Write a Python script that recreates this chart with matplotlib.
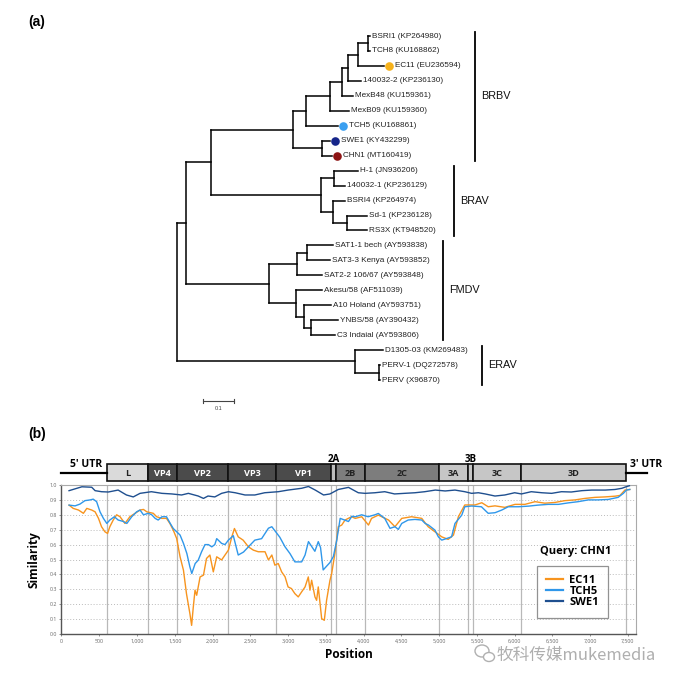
import numpy as np
import matplotlib
matplotlib.use("Agg")
import matplotlib.pyplot as plt
from matplotlib.patches import Rectangle, Ellipse
from matplotlib.ticker import FuncFormatter, MultipleLocator
from matplotlib.lines import Line2D

plt.rcParams['font.family'] = ['Liberation Sans', 'DejaVu Sans']

##================================ data ===========================
# tree: (branch length, name) for tips, (branch length, [children]) for nodes
BRBV = (0.266, [
    (0.041, [
        (0.080, [
            (0.039, [
                (0.018, [
                    (0.033, [
                        (0.033, [(0.006, "BSRI1 (KP264980)"), (0.006, "TCH8 (KU168862)")]),
                        (0.084, "EC11 (EU236594)"),
                    ]),
                    (0.044, "140032-2 (KP236130)"),
                ]),
                (0.034, "MexB48 (KU159361)"),
            ]),
            (0.060, "MexB09 (KU159360)"),
        ]),
        (0.104, "TCH5 (KU168861)"),
    ]),
    (0.094, [(0.025, "SWE1 (KY432299)"), (0.034, "CHN1 (MT160419)")]),
])
BRAV = (0.357, [
    (0.042, [(0.079, "H-1 (JN936206)"), (0.036, "140032-1 (KP236129)")]),
    (0.040, [(0.038, "BSRI4 (KP264974)"),
             (0.046, [(0.065, "Sd-1 (KP236128)"), (0.063, "RS3X (KT948520)")])]),
])
FMDV = (0.270, [
    (0.093, [(0.033, [(0.083, "SAT1-1 bech (AY593838)"), (0.073, "SAT3-3 Kenya (AY593852)")]),
             (0.081, "SAT2-2 106/67 (AY593848)")]),
    (0.088, [(0.085, "Akesu/58 (AF511039)"),
             (0.026, [(0.089, "A10 Holand (AY593751)"),
                      (0.025, [(0.087, "YNBS/58 (AY390432)"), (0.076, "C3 Indaial (AY593806)")])])]),
])
ERAV = (0.579, [(0.090, "D1305-03 (KM269483)"),
                (0.079, [(0.002, "PERV-1 (DQ272578)"), (0.002, "PERV (X96870)")])])
TREE = (0.0, [(0.028, [(0.083, [BRBV, BRAV]), FMDV]), ERAV])

DOTS = {"EC11 (EU236594)": "#f6b21c", "TCH5 (KU168861)": "#3a9ff0",
        "SWE1 (KY432299)": "#16268a", "CHN1 (MT160419)": "#8e1515"}

CLADES = ["BRBV", "BRAV", "FMDV", "ERAV"]
CLADE_LEAVES = [(0, 8), (9, 13), (14, 20), (21, 23)]

# genome map
GENES = ["L", "VP4", "VP2", "VP3", "VP1", "2A", "2B", "2C", "3A", "3B", "3C", "3D"]
GENE_START = [600, 1145, 1525, 2210, 2845, 3575, 3635, 4025, 5000, 5385, 5455, 6080]
GENE_END = 7475

# similarity plot (query CHN1)
swe1_x = [100, 270, 400, 445, 530, 620, 750, 860, 950, 1040, 1190, 1330, 1460, 1590, 1680,
          1810, 1880, 1940, 2030, 2120, 2210, 2300, 2430, 2560, 2690, 2870, 3000, 3180,
          3270, 3360, 3470, 3555, 3665, 3800, 3930, 4020, 4150, 4280, 4410, 4540, 4680,
          4810, 4950, 5080, 5210, 5340, 5430, 5520, 5610, 5740, 5870, 6000, 6090, 6220,
          6360, 6490, 6620, 6750, 6890, 7020, 7200, 7330, 7420, 7480, 7520]
swe1_y = [0.962, 0.988, 0.985, 0.962, 0.955, 0.953, 0.966, 0.933, 0.92, 0.944, 0.955, 0.944,
          0.94, 0.933, 0.944, 0.926, 0.91, 0.926, 0.92, 0.944, 0.955, 0.948, 0.933, 0.933,
          0.948, 0.955, 0.966, 0.978, 0.99, 0.966, 0.933, 0.94, 0.97, 0.984, 0.948, 0.944,
          0.948, 0.955, 0.94, 0.944, 0.948, 0.955, 0.966, 0.96, 0.966, 0.955, 0.944, 0.948,
          0.94, 0.926, 0.933, 0.948, 0.94, 0.955, 0.948, 0.944, 0.955, 0.953, 0.962, 0.966,
          0.966, 0.97, 0.978, 0.989, 0.995]

tch5_x = [100, 180, 245, 310, 380, 420, 465, 510, 555, 600, 640, 700, 750, 820, 865, 930,
          995, 1040, 1085, 1150, 1195, 1240, 1280, 1330, 1390, 1440, 1480, 1525, 1570, 1615,
          1660, 1700, 1725, 1770, 1810, 1855, 1900, 1945, 1990, 2030, 2055, 2120, 2165,
          2210, 2275, 2340, 2410, 2475, 2560, 2650, 2740, 2785, 2890, 2960, 3025, 3090,
          3180, 3225, 3270, 3355, 3400, 3430, 3465, 3555, 3600, 3645, 3690, 3800, 3845,
          3890, 3975, 4060, 4150, 4195, 4280, 4350, 4415, 4460, 4505, 4590, 4680, 4770,
          4815, 4860, 4945, 4990, 5035, 5100, 5165, 5210, 5300, 5340, 5430, 5560, 5650,
          5740, 5830, 5915, 6050, 6180, 6310, 6445, 6580, 6710, 6840, 6975, 7105, 7240,
          7370, 7440, 7480, 7525]
tch5_y = [0.865, 0.86, 0.872, 0.895, 0.9, 0.905, 0.888, 0.82, 0.776, 0.742, 0.765, 0.787,
          0.765, 0.755, 0.742, 0.787, 0.82, 0.832, 0.8, 0.81, 0.8, 0.776, 0.765, 0.787,
          0.787, 0.742, 0.708, 0.686, 0.664, 0.608, 0.54, 0.45, 0.406, 0.473, 0.495, 0.552,
          0.6, 0.6, 0.585, 0.6, 0.64, 0.608, 0.6, 0.63, 0.66, 0.53, 0.55, 0.585, 0.63, 0.64,
          0.71, 0.72, 0.65, 0.585, 0.54, 0.484, 0.484, 0.53, 0.62, 0.555, 0.62, 0.58, 0.43,
          0.48, 0.52, 0.63, 0.776, 0.755, 0.79, 0.787, 0.8, 0.787, 0.8, 0.809, 0.776, 0.709,
          0.72, 0.702, 0.742, 0.765, 0.769, 0.765, 0.742, 0.731, 0.697, 0.652, 0.63, 0.641,
          0.652, 0.742, 0.798, 0.854, 0.859, 0.854, 0.81, 0.814, 0.832, 0.854, 0.854, 0.858,
          0.865, 0.87, 0.87, 0.88, 0.888, 0.9, 0.9, 0.903, 0.917, 0.944, 0.966, 0.97]

ec11_x = [100, 155, 225, 290, 335, 400, 445, 490, 530, 575, 610, 640, 685, 730, 775, 840,
          905, 975, 1040, 1085, 1130, 1170, 1215, 1260, 1325, 1390, 1435, 1480, 1525, 1570,
          1615, 1655, 1700, 1723, 1745, 1768, 1790, 1835, 1880, 1920, 1965, 2010, 2055,
          2120, 2210, 2255, 2290, 2340, 2405, 2475, 2540, 2605, 2695, 2740, 2785, 2825,
          2870, 2915, 2960, 3000, 3045, 3090, 3135, 3180, 3225, 3268, 3290, 3312, 3356,
          3378, 3400, 3445, 3480, 3510, 3555, 3577, 3620, 3665, 3710, 3755, 3840, 3890,
          3975, 4065, 4105, 4195, 4330, 4415, 4505, 4635, 4770, 4855, 4945, 5035, 5120,
          5190, 5255, 5340, 5475, 5565, 5650, 5740, 5870, 6005, 6135, 6270, 6400, 6535,
          6665, 6800, 6930, 7065, 7195, 7330, 7395, 7460, 7525]
ec11_y = [0.865, 0.843, 0.832, 0.81, 0.843, 0.832, 0.82, 0.776, 0.72, 0.686, 0.675, 0.72,
          0.765, 0.8, 0.787, 0.742, 0.787, 0.81, 0.832, 0.836, 0.82, 0.815, 0.81, 0.787,
          0.776, 0.776, 0.742, 0.697, 0.641, 0.518, 0.428, 0.27, 0.137, 0.058, 0.18, 0.294,
          0.26, 0.383, 0.395, 0.507, 0.53, 0.417, 0.518, 0.497, 0.563, 0.652, 0.708, 0.652,
          0.63, 0.585, 0.563, 0.552, 0.552, 0.497, 0.53, 0.462, 0.473, 0.417, 0.384, 0.316,
          0.305, 0.271, 0.249, 0.283, 0.316, 0.383, 0.294, 0.361, 0.249, 0.226, 0.316, 0.103,
          0.092, 0.226, 0.361, 0.405, 0.54, 0.72, 0.731, 0.765, 0.787, 0.776, 0.787, 0.731,
          0.776, 0.798, 0.765, 0.72, 0.776, 0.787, 0.776, 0.72, 0.686, 0.652, 0.635, 0.664,
          0.787, 0.866, 0.866, 0.881, 0.854, 0.86, 0.85, 0.87, 0.87, 0.888, 0.878, 0.883,
          0.895, 0.9, 0.91, 0.917, 0.92, 0.925, 0.93, 0.966, 0.97]

##================================ figure ===========================
W, H = 691, 685
fig = plt.figure(figsize=(W / 100, H / 100), dpi=100)

## (a) tree -- axes over the whole figure, 0.1 substitutions = 30.7 px
PX, X0 = 307.0, 177.3
Y0, DY = 36.0, 14.96
ax = fig.add_axes([0, 0, 1, 1])
ax.set_axis_off()
ax.set_xlim(-X0 / PX, (W - X0) / PX)
ax.set_ylim((H - Y0) / DY, -Y0 / DY)

leaves = []
def draw(node, x0):
    bl, kids = node
    x = x0 + bl
    if isinstance(kids, str):
        y = len(leaves)
        leaves.append((kids, x, y))
    else:
        ys = [draw(k, x) for k in kids]
        y = (ys[0] + ys[-1]) / 2
        ax.plot([x, x], [ys[0], ys[-1]], color='k', lw=1.1, solid_capstyle='projecting')
    if bl > 0:
        ax.plot([x0, x], [y, y], color='k', lw=1.1, solid_capstyle='projecting')
    return y

draw(TREE, 0.0)

for name, x, y in leaves:
    if name in DOTS:
        ax.plot(x + 5 / PX, y, 'o', ms=6.2, color=DOTS[name], mec='none')
        ax.text(x + 11 / PX, y, name, fontsize=5.9, va='center', ha='left', color='#222')
    else:
        ax.text(x + 2 / PX, y, name, fontsize=5.9, va='center', ha='left', color='#222')

bar_x = [0.970, 0.901, 0.866, 0.991]
for lab, (i0, i1), bx in zip(CLADES, CLADE_LEAVES, bar_x):
    ax.plot([bx, bx], [i0 - 0.3, i1 + 0.35], color='k', lw=1.3)
    ax.text(bx + 0.021, (i0 + i1) / 2, lab, fontsize=7.8, va='center', ha='left', color='#111')

# scale bar
sb_x, sb_y = 0.085, 24.4
ax.plot([sb_x, sb_x + 0.1], [sb_y, sb_y], color='#444', lw=0.8)
ax.plot([sb_x, sb_x], [sb_y - 0.12, sb_y + 0.12], color='#444', lw=0.8)
ax.plot([sb_x + 0.1, sb_x + 0.1], [sb_y - 0.12, sb_y + 0.12], color='#444', lw=0.8)
ax.text(sb_x + 0.05, sb_y + 0.3, "0.1", fontsize=4, ha='center', va='top', color='#444')

fig.text(28 / W, 1 - 22 / H, "(a)", fontsize=10, fontweight='bold', va='center', ha='left')
fig.text(28 / W, 1 - 434 / H, "(b)", fontsize=10, fontweight='bold', va='center', ha='left')

## (b) genome map
XMAX = 7607
sans = ['Open Sans', 'DejaVu Sans']
axm = fig.add_axes([61.5 / W, 1 - 485 / H, 574.5 / W, 40 / H])
axm.set_axis_off()
axm.set_xlim(0, XMAX)
axm.set_ylim(0, 40)

fills = {"L": "#dadada", "VP4": "#4b4b4b", "VP2": "#4b4b4b", "VP3": "#4b4b4b", "VP1": "#4b4b4b",
         "2A": "#bdbdbd", "2B": "#7d7d7d", "2C": "#7d7d7d", "3A": "#c6c6c6", "3B": "#c6c6c6",
         "3C": "#c6c6c6", "3D": "#c6c6c6"}
ends = GENE_START[1:] + [GENE_END]
axm.plot([0, GENE_START[0]], [12.3, 12.3], color='k', lw=1.6, clip_on=False)
axm.plot([GENE_END, XMAX + 150], [12.3, 12.3], color='k', lw=1.6, clip_on=False)
for g, s, e in zip(GENES, GENE_START, ends):
    axm.add_patch(Rectangle((s, 4), e - s, 16.7, facecolor=fills[g], edgecolor='#111',
                            lw=1.2, clip_on=False))
    if g in ("2A", "3B"):
        axm.text((s + e) / 2, 26, g, fontsize=7, fontweight='bold', ha='center', va='center',
                 family=sans)
    else:
        tc = 'white' if fills[g] == "#4b4b4b" else '#222'
        axm.text((s + e) / 2, 11.8, g, fontsize=6.6, fontweight='bold', ha='center',
                 va='center', color=tc, family=sans)
axm.text(325, 20.5, "5' UTR", fontsize=7.5, fontweight='bold', ha='center', va='center',
         family=sans)
axm.text(7740, 20.5, "3' UTR", fontsize=7.5, fontweight='bold', ha='center', va='center',
         family=sans, clip_on=False)

## similarity plot
axs = fig.add_axes([61.5 / W, 1 - 634 / H, 574.5 / W, 149 / H])
axs.set_xlim(0, XMAX)
axs.set_ylim(0, 1)
for b in GENE_START + [GENE_END]:
    axs.axvline(b, color='#b8b8b8', lw=0.9, zorder=1)
axs.yaxis.grid(True, ls=(0, (1, 2)), color='#bbbbbb', lw=0.7)
axs.set_axisbelow(True)

l1, = axs.plot(ec11_x, ec11_y, color='#f7941e', lw=1.0, label='EC11', zorder=3)
l2, = axs.plot(tch5_x, tch5_y, color='#2f97ea', lw=1.0, label='TCH5', zorder=4)
l3, = axs.plot(swe1_x, swe1_y, color='#1f4f8f', lw=1.0, label='SWE1', zorder=5)

axs.xaxis.set_major_locator(MultipleLocator(500))
axs.yaxis.set_major_locator(MultipleLocator(0.1))
axs.xaxis.set_major_formatter(FuncFormatter(lambda v, p: f"{v:,.0f}"))
axs.yaxis.set_major_formatter(FuncFormatter(lambda v, p: f"{v:.1f}"))
axs.tick_params(labelsize=3.8, colors='#666', length=1.5, width=0.5, pad=2)
for t in axs.get_xticklabels() + axs.get_yticklabels():
    t.set_family(sans)
for sp in ['left', 'bottom']:
    axs.spines[sp].set_color('#555')
    axs.spines[sp].set_linewidth(1.0)
for sp in ['top', 'right']:
    axs.spines[sp].set_color('#aaaaaa')
    axs.spines[sp].set_linewidth(0.8)

axs.set_xlabel("Position", fontsize=8.5, fontweight='bold', family=sans, labelpad=3)
axs.set_ylabel("Similarity", fontsize=8.5, fontweight='bold', family=sans, labelpad=6)

axs.text(0.895, 0.555, "Query: CHN1", transform=axs.transAxes, fontsize=8, fontweight='bold',
         ha='center', va='center', family=sans)
leg = axs.legend(handles=[l1, l2, l3], loc='upper left', bbox_to_anchor=(0.827, 0.458),
                 prop={'family': sans, 'weight': 'bold', 'size': 8}, frameon=True,
                 fancybox=False, edgecolor='#777', borderpad=0.85, labelspacing=0.0,
                 handlelength=1.5, handletextpad=0.6, borderaxespad=0)
leg.get_frame().set_linewidth(0.9)
for h in leg.get_lines():
    h.set_linewidth(1.6)

## watermark
fig.add_artist(Ellipse((482 / W, 1 - 651 / H), 14 / W, 12 / H, transform=fig.transFigure,
                       facecolor='none', edgecolor='#b0b0b0', lw=1.0))
fig.add_artist(Ellipse((489 / W, 1 - 657 / H), 11 / W, 9 / H, transform=fig.transFigure,
                       facecolor='white', edgecolor='#b0b0b0', lw=1.0))
fig.text(497 / W, 1 - 655 / H, "牧科传媒mukemedia", fontsize=12, color='#a6a6a6',
         ha='left', va='center', family=['Noto Sans CJK SC', 'DejaVu Sans'], alpha=0.9)

fig.savefig("out.png", dpi=100, facecolor='white')
